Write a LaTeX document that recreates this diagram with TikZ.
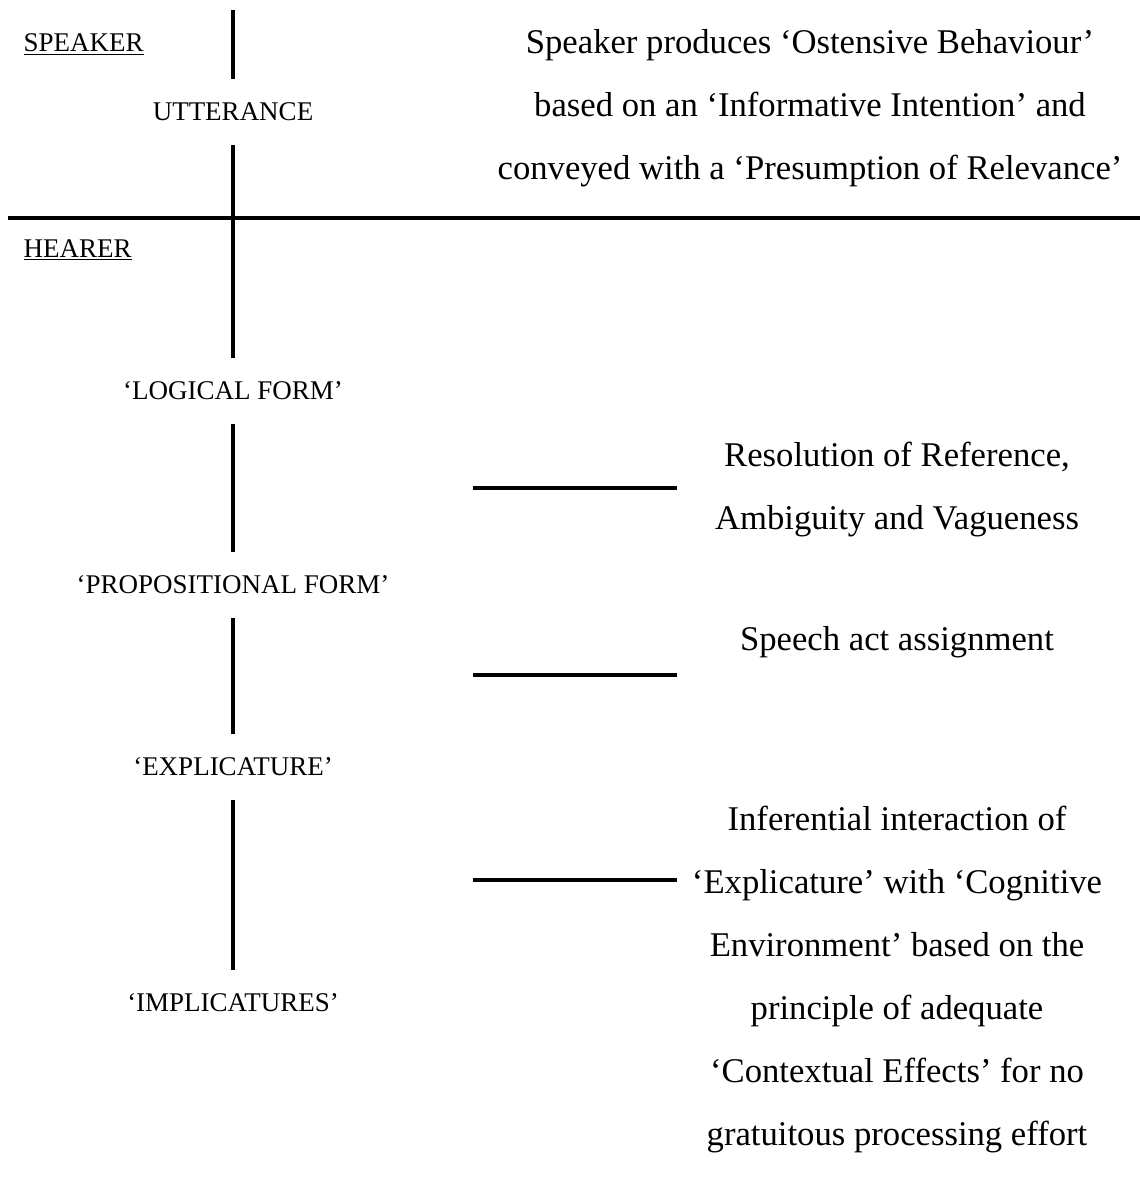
\documentclass[tikz,border=0pt]{standalone}
\usepackage{fontspec}
\setmainfont{Liberation Serif}

\begin{document}
\begin{tikzpicture}[
			x=0.6pt, y=-0.6pt, line width=1.9pt,
			lbl/.style={inner sep=0pt, minimum height=38pt, font=\fontsize{16.2}{19}\selectfont},
			side/.style={anchor=base west, inner sep=0pt, font=\fontsize{16.2}{19}\selectfont},
			note/.style={align=center, inner sep=0pt, font=\fontsize{20.8}{37.8}\selectfont}
			]
			\useasboundingbox (0,0) rectangle (1140,1203);
			\coordinate (top) at (233,10);
			\coordinate (lft) at (8,218);
			\coordinate (rgt) at (1140,218);
			\node[side] (spk) at (22,52) {\underline{SPEAKER}};
			\node[side] (hrr) at (22,257) {\underline{HEARER}};
			\node[lbl] (utt) at (233,112) {UTTERANCE};
			\node[lbl] (lgf) at (233,391) {‘LOGICAL FORM’};
			\node[lbl] (prf) at (233,585) {‘PROPOSITIONAL FORM’};
			\node[lbl] (exp) at (233,767) {‘EXPLICATURE’};
			\node[lbl] (imp) at (233,1003) {‘IMPLICATURES’};
			\node[note] (ost) at (810,108) {Speaker produces ‘Ostensive Behaviour’\\
				based on an ‘Informative Intention’ and\\
				conveyed with a ‘Presumption of Relevance’};
			\node[note] (res) at (897,490) {Resolution of Reference,\\Ambiguity and Vagueness};
			\node[note] (spa) at (897,642) {Speech act assignment};
			\node[note] (inf) at (897,980) {Inferential interaction of\\
				‘Explicature’ with ‘Cognitive\\
				Environment’ based on the\\
				principle of adequate\\
				‘Contextual Effects’ for no\\
				gratuitous processing effort};
			% spine and divider
			\draw (top) -- (utt) -- (lgf) -- (prf) -- (exp) -- (imp);
			\draw (lft) -- (rgt);
			% pointers to the notes
			\foreach \y in {488,675,880}
				\draw (473,\y) -- (677,\y);
		\end{tikzpicture}
\end{document}
